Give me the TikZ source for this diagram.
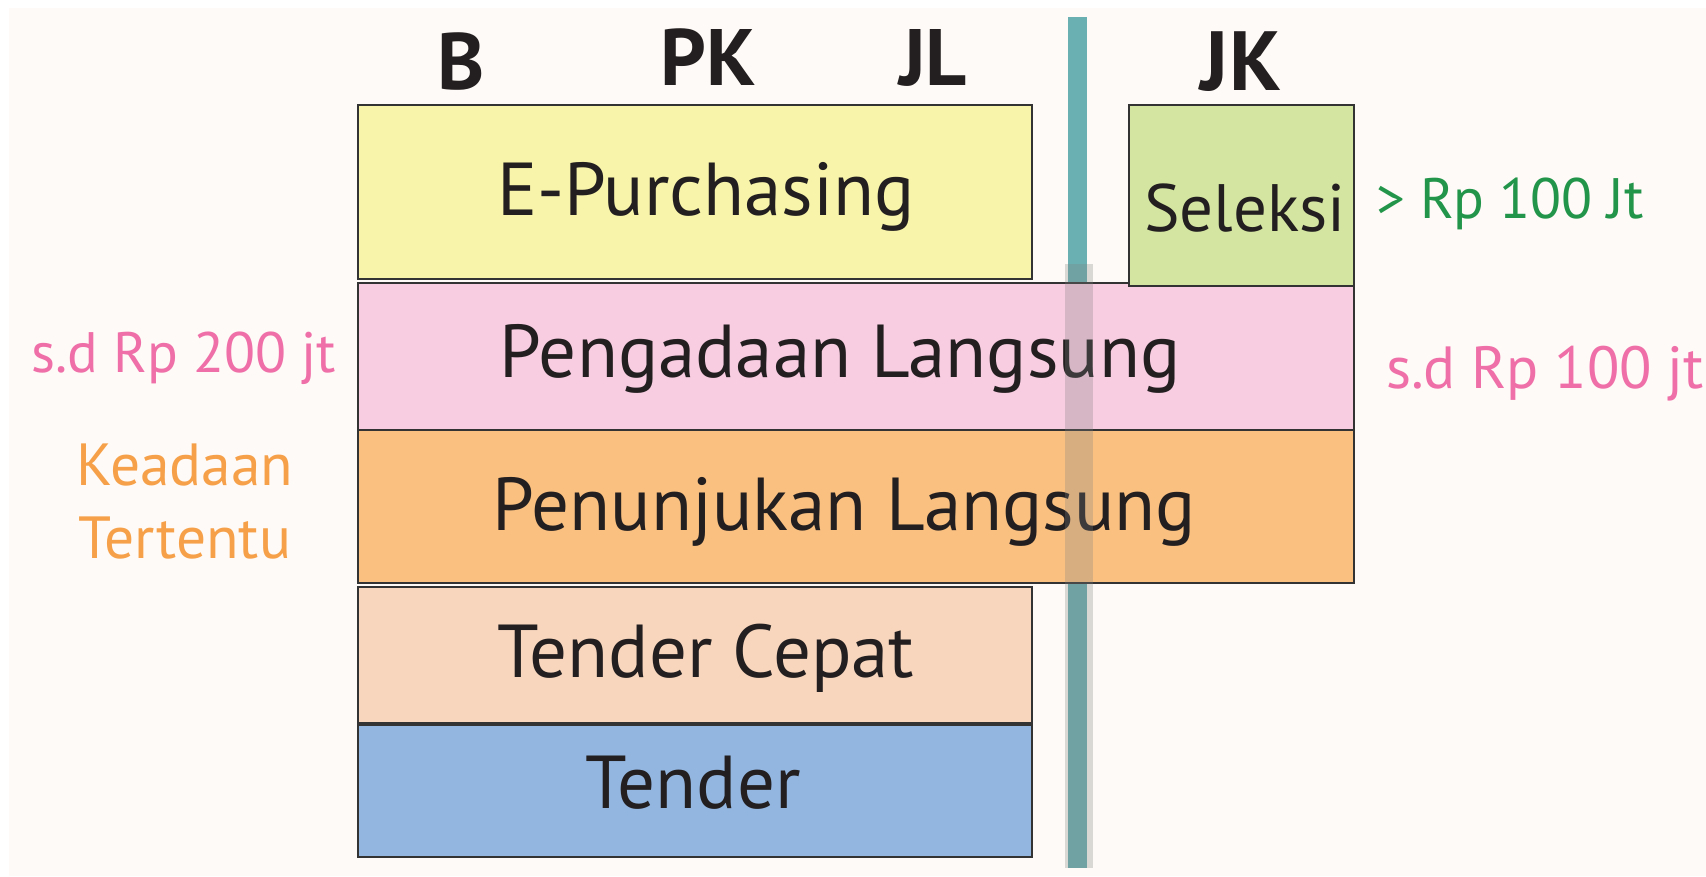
\documentclass[tikz,border=0pt]{standalone}
\usepackage{fontspec}
\setmainfont{PT Sans}
\definecolor{bgc}{HTML}{FEFAF7}
\definecolor{yel}{HTML}{F8F4AA}
\definecolor{grn}{HTML}{D4E5A1}
\definecolor{pnk}{HTML}{F8CCE1}
\definecolor{org}{HTML}{F9C080}
\definecolor{pch}{HTML}{F8D6BD}
\definecolor{blu}{HTML}{93B6E0}
\definecolor{teal1}{HTML}{6AAFB1}
\definecolor{ink}{HTML}{231F20}
\definecolor{pinktxt}{HTML}{EF6FA8}
\definecolor{orgtxt}{HTML}{F6A14A}
\definecolor{grntxt}{HTML}{23954A}
\definecolor{edge}{HTML}{333333}
\tikzset{
  box/.style={draw=edge, line width=1.6pt, rectangle, inner sep=0pt, anchor=north west},
  lbl/.style={anchor=base, inner sep=0pt, text=ink, font=\fontsize{75}{80}\selectfont},
  hdr/.style={anchor=base, inner sep=0pt, text=ink, font=\fontsize{80}{84}\selectfont\bfseries},
  side/.style={anchor=base, inner sep=0pt, font=\fontsize{57}{62}\selectfont},
}
\begin{document}
\begin{tikzpicture}[x=1pt,y=-1pt]
\useasboundingbox (0,0) rectangle (1706,876);
\fill[white] (0,0) rectangle (1706,876);
\fill[bgc] (9,8) rectangle (1706,876);
% teal divider (under boxes)
\fill[teal1] (1068,17) rectangle (1087,868);
% boxes
\node[box, fill=yel, minimum width=674pt, minimum height=174pt] (ep) at (357,104) {};
\node[box, fill=pnk, minimum width=996pt, minimum height=147pt] (pl) at (357,282) {};
\node[box, fill=grn, minimum width=225pt, minimum height=181pt] (sel) at (1128,104) {};
\node[box, fill=org, minimum width=996pt, minimum height=153pt] (pnl) at (357,429) {};
\node[box, fill=pch, minimum width=674pt, minimum height=136pt] (tc) at (357,586) {};
\node[box, fill=blu, minimum width=674pt, minimum height=132pt] (td) at (357,724) {};
% labels in boxes
\node[lbl] (tep) at (706,215) {E-Purchasing};
\node[lbl, font=\fontsize{67}{72}\selectfont] (tsel) at (1245,231) {Seleksi};
\node[lbl] (tpl) at (840,377) {Pengadaan Langsung};
\node[lbl] (tpnl) at (844,530) {Penunjukan Langsung};
\node[lbl] (ttc) at (706,677) {Tender Cepat};
\node[lbl] (ttd) at (693,808) {Tender};
% headers
\node[hdr] (hb) at (461,89) {B};
\node[hdr] (hpk) at (708,85) {PK};
\node[hdr] (hjl) at (933,85) {JL};
\node[hdr, font=\fontsize{84}{88}\selectfont\bfseries] (hjk) at (1241,90) {JK};
% side notes
\node[side, text=pinktxt] (s200) at (184,372) {s.d Rp 200 jt};
\node[side, text=pinktxt, font=\fontsize{59.5}{64}\selectfont] (s100) at (1545,388) {s.d Rp 100 jt};
\node[side, text=grntxt] (g100) at (1510,218) {> Rp 100 Jt};
\node[side, text=orgtxt, font=\fontsize{59.5}{64}\selectfont] (k1) at (185,485) {Keadaan};
\node[side, text=orgtxt, font=\fontsize{59.5}{64}\selectfont] (k2) at (185,558) {Tertentu};
% translucent gray band over the divider
\fill[gray, opacity=0.28] (1065,264) rectangle (1093,868);
\end{tikzpicture}
\end{document}
